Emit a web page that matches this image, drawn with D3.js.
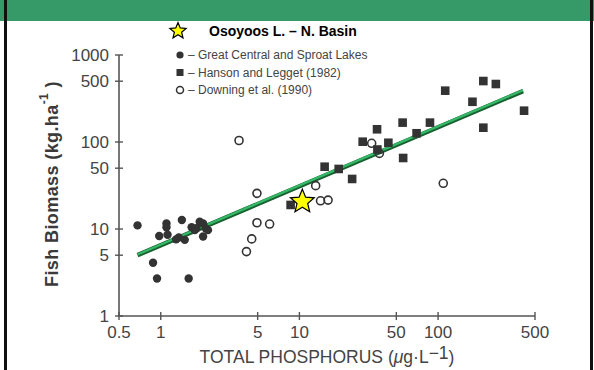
<!DOCTYPE html>
<html>
<head>
<meta charset="utf-8">
<script src="https://cdn.jsdelivr.net/npm/d3@7"></script>
<style>
  html, body { margin: 0; padding: 0; background: #fff; }
  svg { display: block; }
  text { font-family: Arial, "Liberation Sans", Helvetica, sans-serif; }
</style>
</head>
<body>
<svg id="chart" width="594" height="370"></svg>
<script>
// ---- data ----
const greatCentral = [
  [0.68, 11], [1.10, 11.6], [1.10, 10.5], [0.975, 8.3], [1.42, 12.7], [1.29, 7.6],
  [1.49, 7.5], [1.35, 8.0], [1.67, 10.5], [1.81, 10.2], [1.91, 12.1], [2.02, 11.6],
  [2.11, 10.2], [2.19, 9.7], [2.02, 8.2], [1.76, 9.7], [0.88, 4.1], [0.94, 2.7],
  [1.59, 2.7], [1.12, 8.6]
];
const hansonLegget = [
  [8.64, 18.9], [15.2, 52], [19.2, 49], [24, 37.6], [28.6, 100.8], [36.3, 140],
  [36.5, 82], [43.8, 98], [55.5, 167], [56, 65.5], [70, 126], [87.4, 167],
  [112.6, 389], [177, 290], [212, 502], [261, 464], [212, 146], [417, 229]
];
const downing = [
  [3.67, 104], [4.94, 25.7], [4.94, 11.8], [6.1, 11.4], [4.53, 7.7], [4.15, 5.5],
  [13.1, 31.5], [14.2, 21.1], [16.1, 21.5], [33.2, 96.6], [37.7, 74], [109, 33.5]
];
const osoyoos = [[10.5, 20.6]];
const trendLine = [[0.68, 5], [410, 385]];

const xTicks = [0.5, 1, 5, 10, 50, 100, 500];
const yTicks = [1, 5, 10, 50, 100, 500, 1000];
const legendLabels = [
  "– Great Central and Sproat Lakes",
  "– Hanson and Legget (1982)",
  "– Downing et al. (1990)"
];
const starLabel = "Osoyoos L. – N. Basin";

// ---- drawing ----
const svg = d3.select("#chart");
const W = 594, H = 370;

// header band and frame
svg.append("rect").attr("x", 0).attr("y", 0).attr("width", W).attr("height", 21).attr("fill", "#369a68");
svg.append("line").attr("x1", 5.5).attr("x2", 5.5).attr("y1", 0).attr("y2", H).attr("stroke", "#111").attr("stroke-width", 3);
svg.append("line").attr("x1", 591.5).attr("x2", 591.5).attr("y1", 0).attr("y2", H).attr("stroke", "#111").attr("stroke-width", 3);

const x = d3.scaleLog().domain([0.5, 500]).range([119, 535]);
const y = d3.scaleLog().domain([1, 1000]).range([316, 55]);

const axisColor = "#555";
const g = svg.append("g");

// axes lines
g.append("line").attr("x1", x(0.5)).attr("x2", x(500)).attr("y1", y(1)).attr("y2", y(1))
  .attr("stroke", axisColor).attr("stroke-width", 1.6);
g.append("line").attr("x1", x(0.5)).attr("x2", x(0.5)).attr("y1", y(1)).attr("y2", y(1000))
  .attr("stroke", axisColor).attr("stroke-width", 1.6);

// x ticks (crossing)
g.selectAll(".xt").data(xTicks).join("line")
  .attr("x1", d => x(d)).attr("x2", d => x(d))
  .attr("y1", y(1) - 4).attr("y2", y(1) + 4)
  .attr("stroke", axisColor).attr("stroke-width", 1.4);
g.selectAll(".xl").data(xTicks).join("text")
  .attr("x", d => x(d)).attr("y", y(1) + 22)
  .attr("text-anchor", "middle").attr("font-size", 17).attr("fill", "#444")
  .text(d => d);

// y ticks (crossing)
g.selectAll(".yt").data(yTicks).join("line")
  .attr("x1", x(0.5) - 4).attr("x2", x(0.5) + 4)
  .attr("y1", d => y(d)).attr("y2", d => y(d))
  .attr("stroke", axisColor).attr("stroke-width", 1.4);
g.selectAll(".yl").data(yTicks).join("text")
  .attr("x", x(0.5) - 10).attr("y", d => y(d) + 6)
  .attr("text-anchor", "end").attr("font-size", 17).attr("fill", "#444")
  .text(d => d);

// axis titles
const xt = svg.append("text").attr("x", 327).attr("y", 363).attr("text-anchor", "middle")
  .attr("font-size", 17.5).attr("fill", "#444");
xt.append("tspan").text("TOTAL PHOSPHORUS (");
xt.append("tspan").attr("font-style", "italic").text("μ");
xt.append("tspan").text("g·L");
xt.append("tspan").attr("dy", -4).text("−1");
xt.append("tspan").attr("dy", 4).text(")");

const yt = svg.append("text").attr("transform", "translate(58,184) rotate(-90)")
  .attr("text-anchor", "middle").attr("font-size", 18).attr("font-weight", "bold")
  .attr("letter-spacing", 0.4).attr("fill", "#3a3a3a");
yt.append("tspan").text("Fish Biomass (kg.ha");
yt.append("tspan").attr("dy", -10).attr("font-size", 12).text("-1");
yt.append("tspan").attr("dy", 10).text(" )");

// trend line
const line = d3.line().x(d => x(d[0])).y(d => y(d[1]));
g.append("path").datum(trendLine).attr("d", line).attr("fill", "none")
  .attr("stroke", "#17602f").attr("stroke-width", 4.5);
g.append("path").datum(trendLine).attr("d", line).attr("fill", "none")
  .attr("stroke", "#35b868").attr("stroke-width", 2.2)
  .attr("transform", "translate(0,-0.8)");

// points
const dark = "#333";
g.selectAll(".gc").data(greatCentral).join("circle")
  .attr("cx", d => x(d[0])).attr("cy", d => y(d[1])).attr("r", 4.2).attr("fill", dark);
g.selectAll(".hl").data(hansonLegget).join("rect")
  .attr("x", d => x(d[0]) - 4.3).attr("y", d => y(d[1]) - 4.3)
  .attr("width", 8.6).attr("height", 8.6).attr("fill", dark);
g.selectAll(".dw").data(downing).join("circle")
  .attr("cx", d => x(d[0])).attr("cy", d => y(d[1])).attr("r", 4)
  .attr("fill", "none").attr("stroke", dark).attr("stroke-width", 1.6);

function starPath(cx, cy, R, r) {
  const pts = [];
  for (let i = 0; i < 10; i++) {
    const a = -Math.PI / 2 + i * Math.PI / 5;
    const rr = i % 2 === 0 ? R : r;
    pts.push([cx + rr * Math.cos(a), cy + rr * Math.sin(a)]);
  }
  return "M" + pts.map(p => p.join(",")).join("L") + "Z";
}
g.selectAll(".star").data(osoyoos).join("path")
  .attr("d", d => starPath(x(d[0]), y(d[1]), 12.5, 5.6))
  .attr("fill", "#ffff00").attr("stroke", "#000").attr("stroke-width", 1.2);

// legend
const lg = svg.append("g");
lg.append("path").attr("d", starPath(178, 31, 8.5, 3.8))
  .attr("fill", "#ffff00").attr("stroke", "#000").attr("stroke-width", 1.2);
lg.append("text").attr("x", 209).attr("y", 36).attr("font-size", 14)
  .attr("font-weight", "bold").attr("fill", "#000").text(starLabel);

const rowY = [55, 72.5, 90];
lg.append("circle").attr("cx", 180).attr("cy", rowY[0]).attr("r", 3.6).attr("fill", dark);
lg.append("rect").attr("x", 176.5).attr("y", rowY[1] - 3.5).attr("width", 7).attr("height", 7).attr("fill", dark);
lg.append("circle").attr("cx", 180).attr("cy", rowY[2]).attr("r", 3.5).attr("fill", "none")
  .attr("stroke", dark).attr("stroke-width", 1.5);
lg.selectAll(".lt").data(legendLabels).join("text")
  .attr("x", 188).attr("y", (d, i) => rowY[i] + 4.2)
  .attr("font-size", 12).attr("fill", "#444").text(d => d);
</script>
</body>
</html>
